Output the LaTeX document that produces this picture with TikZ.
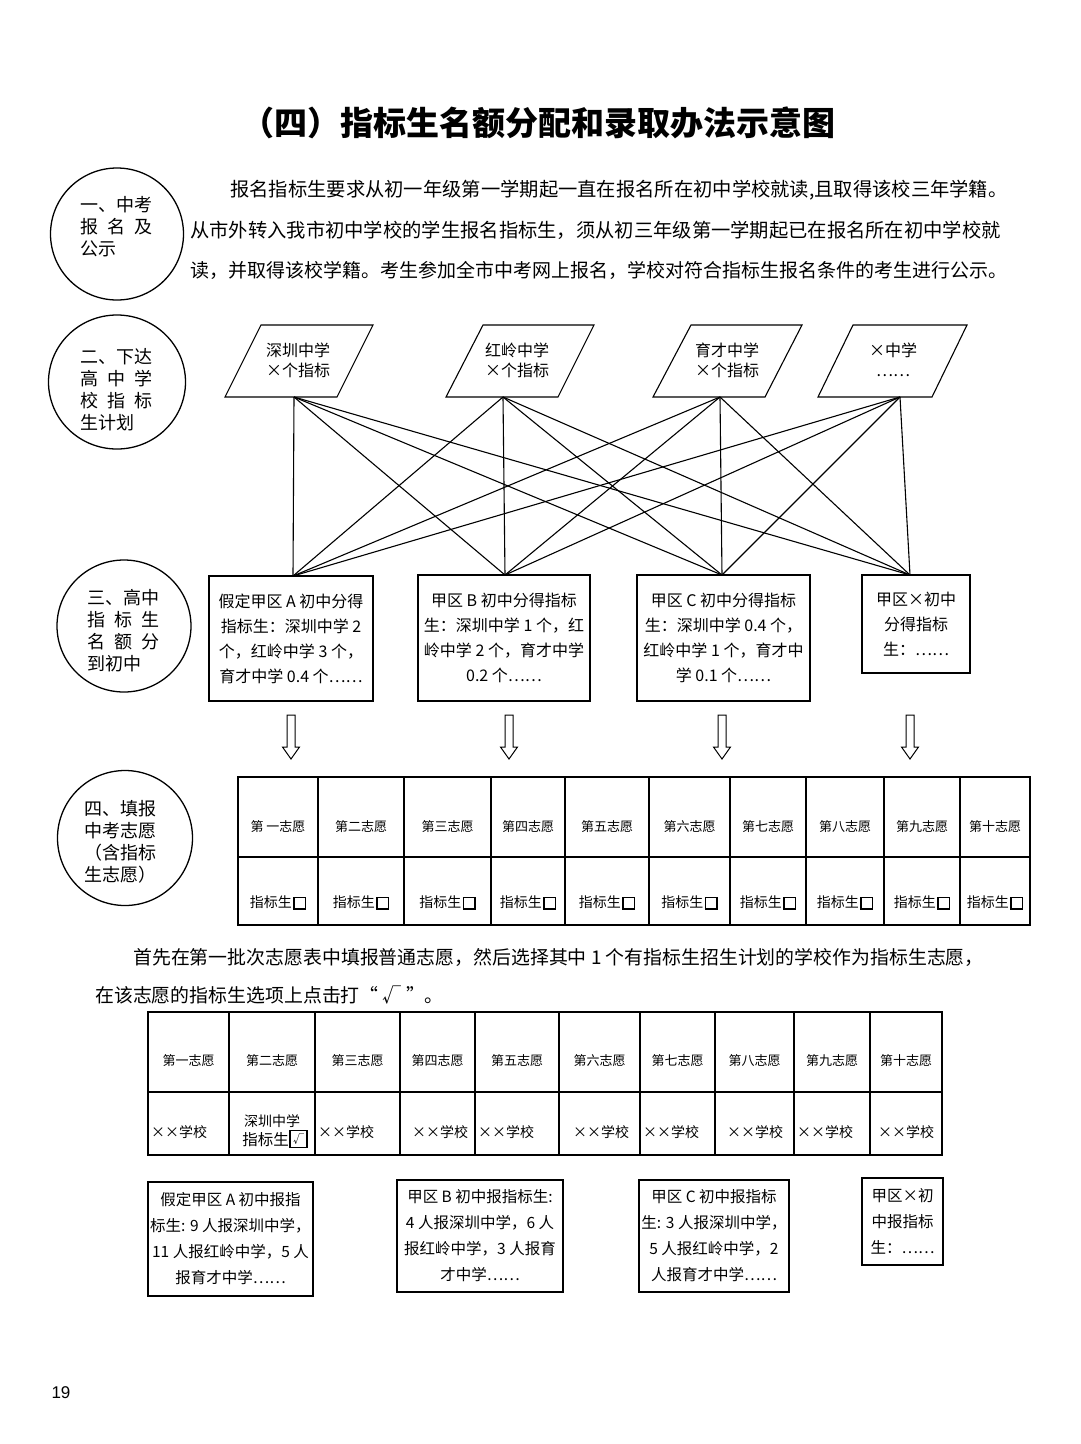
\documentclass[tikz,border=0pt]{standalone}
\usepackage{fontspec}
\setmainfont{Noto Sans CJK SC}
\newfontfamily\pnfont{Liberation Sans}
\usetikzlibrary{shapes.geometric}
\newcommand\myfs[2]{\fontsize{#1pt}{#2pt}\selectfont}
\newcommand\sqbox{\hspace{1.5pt}\raisebox{-0.5pt}{\setlength{\fboxsep}{0pt}\setlength{\fboxrule}{1.3pt}\fbox{\rule{0pt}{10pt}\hspace{10pt}}}}
\begin{document}
\begin{tikzpicture}[x=1pt,y=-1pt,
  circ/.style={draw, ellipse, line width=1.3, inner sep=0},
  ctext/.style={anchor=west, align=left, inner sep=0, font=\myfs{18}{22}},
  para/.style={anchor=west, inner sep=0},
  pgram/.style={line width=1.1},
  ptext/.style={align=center, inner sep=0, font=\myfs{16}{20}},
  conn/.style={line width=1.1},
  boxn/.style={draw, line width=1.5, inner sep=0, align=center, font=\myfs{16}{25}},
  boxm/.style={draw, line width=1.5, inner sep=0, align=center, font=\myfs{15.5}{26}},
  harrow/.style={line width=1},
  tline/.style={line width=2.8},
  cellt/.style={inner sep=0, font=\myfs{13}{16}},
  cellu/.style={inner sep=0, font=\myfs{14}{17}}]
\useasboundingbox (0,0) rectangle (1080,1444);
\fill[white] (0,0) rectangle (1080,1444);

% title
\node[inner sep=0] (title) at (538,123) {\myfs{33}{40}\bfseries （四）指标生名额分配和录取办法示意图};

% circles
\node[circ, minimum width=133, minimum height=132] (c1) at (117,234) {};
\node[circ, minimum width=137, minimum height=134] (c2) at (117,382) {};
\node[circ, minimum width=134, minimum height=132] (c3) at (124,626) {};
\node[circ, minimum width=135, minimum height=135] (c4) at (125,838) {};
\node[ctext] (c1t) at (80,227) {一、中考\\报\enspace 名\enspace 及\\公示};
\node[ctext] (c2t) at (80,390) {二、下达\\高\enspace 中\enspace 学\\校\enspace 指\enspace 标\\生计划};
\node[ctext] (c3t) at (87,631) {三、高中\\指\enspace 标\enspace 生\\名\enspace 额\enspace 分\\到初中};
\node[ctext] (c4t) at (84,842) {四、填报\\中考志愿\\（含指标\\生志愿）};

% paragraph 1
\node[para, font=\myfs{19.3}{24}] (pa1) at (230,190) {报名指标生要求从初一年级第一学期起一直在报名所在初中学校就读,且取得该校三年学籍。};
\node[para, font=\myfs{19.3}{24}] (pa2) at (190,230) {从市外转入我市初中学校的学生报名指标生，须从初三年级第一学期起已在报名所在初中学校就};
\node[para, font=\myfs{19.0}{24}] (pa3) at (190,270) {读，并取得该校学籍。考生参加全市中考网上报名，学校对符合指标生报名条件的考生进行公示。};

% parallelograms
\draw[pgram] (261,325) -- (373,325) -- (337,397) -- (225,397) -- cycle;
\draw[pgram] (483,325) -- (594,325) -- (558,397) -- (446,397) -- cycle;
\draw[pgram] (691,325) -- (802,325) -- (765,397) -- (653,397) -- cycle;
\draw[pgram] (853,325) -- (967,325) -- (932,397) -- (818,397) -- cycle;
\node[ptext] (pt1) at (298,360) {深圳中学\\×个指标};
\node[ptext] (pt2) at (517,360) {红岭中学\\×个指标};
\node[ptext] (pt3) at (727,360) {育才中学\\×个指标};
\node[ptext] (pt4) at (893,360) {×中学\\……};
\coordinate (pb1) at (294,397);
\coordinate (pb2) at (503,397);
\coordinate (pb3) at (720,397);
\coordinate (pb4) at (900,397);

% row 3 boxes
\node[boxn, minimum width=164, minimum height=125] (bA) at (291,638.5) {假定甲区 A 初中分得\\指标生：深圳中学 2\\个，红岭中学 3 个，\\育才中学 0.4 个……};
\node[boxn, minimum width=172, minimum height=126] (bB) at (504,638) {甲区 B 初中分得指标\\生：深圳中学 1 个，红\\岭中学 2 个，育才中学\\0.2 个……};
\node[boxn, minimum width=173, minimum height=126] (bC) at (723.5,638) {甲区 C 初中分得指标\\生：深圳中学 0.4 个，\\红岭中学 1 个，育才中\\学 0.1 个……};
\node[boxn, minimum width=108, minimum height=98] (bX) at (916,624) {甲区×初中\\分得指标\\生：……};
\coordinate (bt1) at (293,576);
\coordinate (bt2) at (505,575);
\coordinate (bt3) at (722,575);
\coordinate (bt4) at (910,575);

\foreach \i in {1,...,4}{
  \foreach \j in {1,...,4}{
    \draw[conn] (pb\i) -- (bt\j);
  }
}

% hollow arrows
\foreach \ax in {291,509,722,910}{
  \draw[harrow] (\ax-4,715) -- (\ax+4,715) -- (\ax+4,747) -- (\ax+8.5,747) -- (\ax,759) -- (\ax-8.5,747) -- (\ax-4,747) -- cycle;
}

% table 1
\draw[tline] (238,777) rectangle (1030,925);
\draw[tline] (238,857) -- (1030,857);
\foreach \vx in {318,404,491,565,649,730,806,884,960}{
  \draw[tline] (\vx,777) -- (\vx,925);
}
\foreach \xa/\xb/\lab [count=\i] in {238/318/第 一志愿, 318/404/第二志愿, 404/491/第三志愿, 491/565/第四志愿, 565/649/第五志愿, 649/730/第六志愿, 730/806/第七志愿, 806/884/第八志愿, 884/960/第九志愿, 960/1030/第十志愿}{
  \node[cellt] (ta\i) at ({(\xa+\xb)/2},827) {\lab};
  \node[cellu] (tb\i) at ({(\xa+\xb)/2},903) {指标生\sqbox};
}

% paragraph 2
\node[para, font=\myfs{18.9}{24}] (pb1t) at (133,957) {首先在第一批次志愿表中填报普通志愿，然后选择其中 1 个有指标生招生计划的学校作为指标生志愿，};
\node[para, font=\myfs{18.9}{24}] (pb2t) at (95,995) {在该志愿的指标生选项上点击打“ √ ”。};

% table 2
\draw[tline] (148,1012) rectangle (942,1155);
\draw[tline] (148,1092) -- (942,1092);
\foreach \vx in {229,315,400,475,559,640,715,794,870}{
  \draw[tline] (\vx,1012) -- (\vx,1155);
}
\foreach \xa/\xb/\lab [count=\i] in {148/229/第一志愿, 229/315/第二志愿, 315/400/第三志愿, 400/475/第四志愿, 475/559/第五志愿, 559/640/第六志愿, 640/715/第七志愿, 715/794/第八志愿, 794/870/第九志愿, 870/942/第十志愿}{
  \node[cellt] (tc\i) at ({(\xa+\xb)/2},1061) {\lab};
}
\node[cellu, anchor=west] (td1) at (151,1132) {××学校};
\node[inner sep=0, font=\myfs{14}{17}] (td2a) at (272,1121) {深圳中学};
\node[inner sep=0, font=\myfs{15.5}{18}, anchor=east] (td2b) at (289,1140) {指标生};
\node[draw, line width=1.2, minimum width=17, minimum height=17, inner sep=0, font=\myfs{11}{12}] (td2c) at (298.5,1139) {√};
\node[cellu, anchor=west] (td3) at (318,1132) {××学校};
\node[cellu] (td4) at (440,1132) {××学校};
\node[cellu, anchor=west] (td5) at (478,1132) {××学校};
\node[cellu] (td6) at (601,1132) {××学校};
\node[cellu, anchor=west] (td7) at (643,1132) {××学校};
\node[cellu] (td8) at (755,1132) {××学校};
\node[cellu, anchor=west] (td9) at (797,1132) {××学校};
\node[cellu] (td10) at (906,1132) {××学校};

% bottom boxes
\node[boxm, minimum width=165, minimum height=114] (eA) at (230.5,1239) {假定甲区 A 初中报指\\标生: 9 人报深圳中学，\\11 人报红岭中学，5 人\\报育才中学……};
\node[boxm, minimum width=166, minimum height=112] (eB) at (480,1236) {甲区 B 初中报指标生:\\4 人报深圳中学，6 人\\报红岭中学，3 人报育\\才中学……};
\node[boxm, minimum width=150, minimum height=112] (eC) at (714,1236) {甲区 C 初中报指标\\生: 3 人报深圳中学，\\5 人报红岭中学，2\\人报育才中学……};
\node[boxm, minimum width=81, minimum height=87] (eX) at (902.5,1221.5) {甲区×初\\中报指标\\生：……};

% page number
\node[inner sep=0] (pg) at (61,1393) {\pnfont\myfs{17}{20}19};
\end{tikzpicture}
\end{document}
